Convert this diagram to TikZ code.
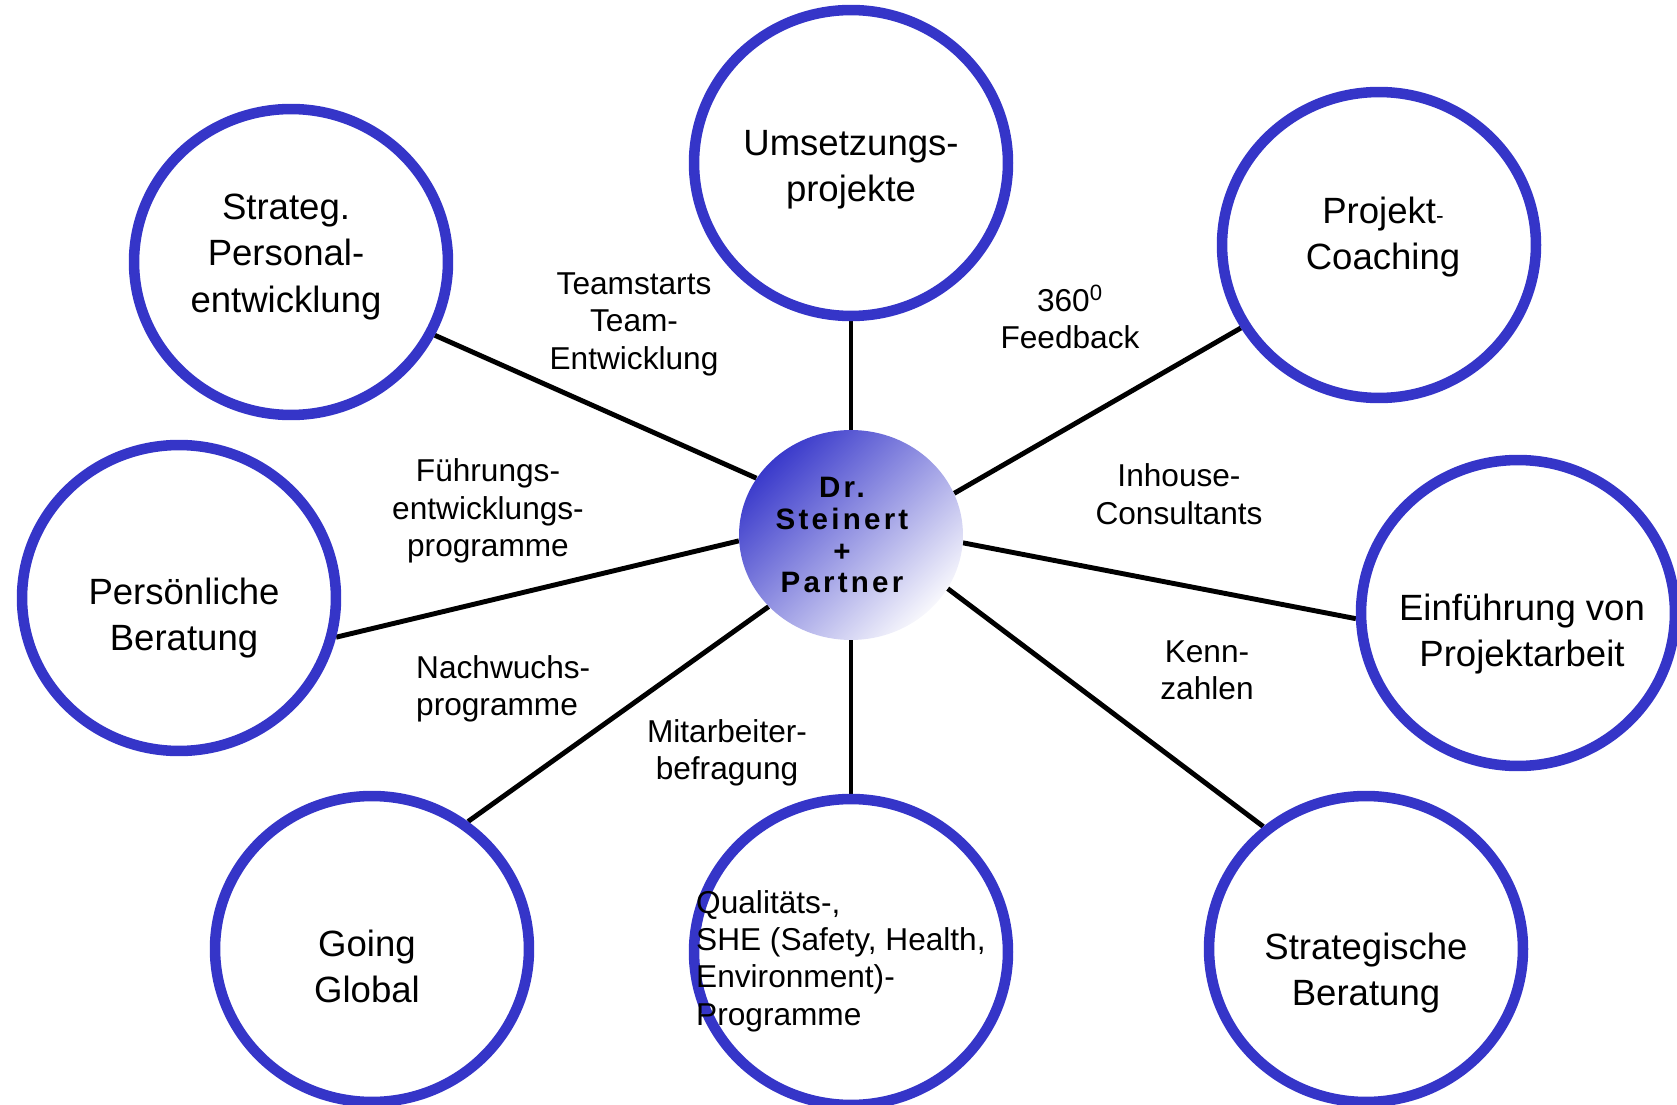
\documentclass[tikz,border=0pt]{standalone}
\usepackage{fontspec}
\setmainfont{Liberation Sans}
\newfontfamily\hubfont{Liberation Sans}[LetterSpace=11]
\usetikzlibrary{shapes.geometric,backgrounds}
\definecolor{ringblue}{HTML}{3535C8}
\definecolor{hubdark}{HTML}{3A3ACB}
\definecolor{hublight}{HTML}{F7F7FC}
\tikzset{
  ring/.style={ellipse, draw=ringblue, line width=6pt, fill=white,
    minimum width=6.28cm, minimum height=6.12cm, inner sep=0pt},
  ringtext/.style={align=center, font=\fontsize{20.8}{26.2}\selectfont},
  note/.style={align=center, font=\fontsize{18}{21.3}\selectfont},
  spoke/.style={line width=2.8pt, black},
  hub/.style={ellipse, top color=hubdark, bottom color=hublight, shading angle=45,
    minimum width=4.48cm, minimum height=4.2cm, inner sep=0pt},
  hubtext/.style={align=center, font=\hubfont\bfseries\fontsize{16.8}{18.2}\selectfont}
}

\begin{document}
\begin{tikzpicture}[x=0.02cm, y=-0.02cm]
  \useasboundingbox (0,0) rectangle (1677,1105);

  % the firm in the middle
  \node[hub, label={[hubtext, xshift=-0.18cm]center:Dr.\\Steinert\\+\\Partner}] (hub) at (851,535) {};

  % ring of service fields, clockwise from the top
  \node[ring, label={[ringtext, yshift=-0.14cm]center:Umsetzungs-\\projekte}] (impl) at (851,163) {};
  \node[ring, label={[ringtext, xshift=0.08cm, yshift=0.16cm]center:Projekt{\fontsize{13}{13}\selectfont-}\\Coaching}] (coach) at (1379,245) {};
  \node[ring, label={[ringtext, xshift=0.08cm, yshift=-0.42cm]center:Einführung von\\Projektarbeit}] (intro) at (1518,613) {};
  \node[ring, label={[ringtext, yshift=-0.48cm]center:Strategische\\Beratung}] (strat) at (1366,949) {};
  \node[ring] (qual) at (851,952) {};
  \node[ring, label={[ringtext, xshift=-0.1cm, yshift=-0.34cm]center:Going\\Global}] (global) at (372,949) {};
  \node[ring, label={[ringtext, xshift=0.1cm, yshift=-0.4cm]center:Persönliche\\Beratung}] (pers) at (179,598) {};
  \node[ring, label={[ringtext, xshift=-0.1cm, yshift=0.1cm]center:Strateg.\\Personal-\\entwicklung}] (staff) at (291,262) {};

  % spokes run underneath the rings and the hub
  \begin{scope}[on background layer]
    \draw[spoke] (hub) -- (impl);
    \draw[spoke] (hub.22.7) -- (coach.211.7);
    \draw[spoke] (hub.-4) -- (intro.182.5);
    \draw[spoke] (hub.-29) -- (strat.130);
    \draw[spoke] (hub) -- (qual);
    \draw[spoke] (hub.221.6) -- (global.53.6);
    \draw[spoke] (hub.183.6) -- (pers.-14);
    \draw[spoke] (hub.149.2) -- (staff.-27);
  \end{scope}

  % labels between the spokes
  \node[note] (teams) at (634,324) {Teamstarts\\Team-\\Entwicklung};
  \node[note] (feedback) at (1070,317) {360\textsuperscript{0}\\Feedback};
  \node[note] (inhouse) at (1179,494) {Inhouse-\\Consultants};
  \node[note] (kpi) at (1207,670) {Kenn-\\zahlen};
  \node[note] (survey) at (727,753) {Mitarbeiter-\\befragung};
  \node[note, align=left, anchor=west] (junior) at (410,689) {Nachwuchs-\\programme};
  \node[note] (leaders) at (488,511) {Führungs-\\entwicklungs-\\programme};
  \node[note, align=left, anchor=west] (qualnote) at (690,961)
    {Qualitäts-,\\SHE (Safety, Health,\\Environment)-\\Programme};

\end{tikzpicture}
\end{document}
